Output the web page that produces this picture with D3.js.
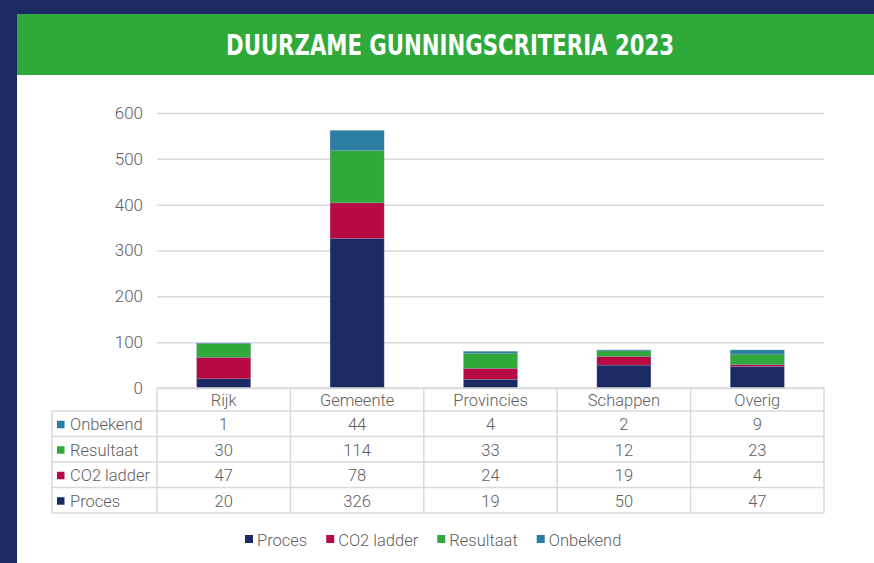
<!DOCTYPE html>
<meta charset="utf-8">
<script src="https://d3js.org/d3.v7.min.js"></script>
<style>
  body { margin: 0; background: #1b2a63; }
  text { font-family: Roboto, "Noto Sans", sans-serif; font-weight: 300; }
</style>
<div id="chart"></div>
<script>
// data
var categories = ["Rijk", "Gemeente", "Provincies", "Schappen", "Overig"];
var seriesNames = ["Proces", "CO2 ladder", "Resultaat", "Onbekend"];
var proces = [20, 326, 19, 50, 47];
var co2Ladder = [47, 78, 24, 19, 4];
var resultaat = [30, 114, 33, 12, 23];
var onbekend = [1, 44, 4, 2, 9];
var yTicks = [0, 100, 200, 300, 400, 500, 600];
var title = "DUURZAME GUNNINGSCRITERIA 2023";

var colors = ["#1b2a63", "#b80a42", "#30a93a", "#2b7ea1"];
var values = [proces, co2Ladder, resultaat, onbekend];

var W = 874, H = 563;
var grey = "#5e5e5e", lineGrey = "#d9d9d9";

var svg = d3.select("#chart").append("svg")
  .attr("width", W).attr("height", H);

// white panel + green header
svg.append("rect").attr("x", 17).attr("y", 14).attr("width", W - 17).attr("height", H - 14).attr("fill", "#fff");
svg.append("rect").attr("x", 17).attr("y", 14).attr("width", W - 17).attr("height", 61).attr("fill", "#2fa93a");
svg.append("text")
  .attr("x", 450).attr("y", 55)
  .attr("text-anchor", "middle")
  .attr("fill", "#fff")
  .style("font-family", "'Liberation Sans Narrow', 'DejaVu Sans Condensed', sans-serif")
  .style("font-weight", "bold")
  .style("font-size", "28px")
  .attr("textLength", 448).attr("lengthAdjust", "spacingAndGlyphs")
  .text(title);

// scales
var x = d3.scaleBand().domain(categories).range([157, 824]);
var y = d3.scaleLinear().domain([0, 600]).range([388, 113]);

// y axis with gridlines
var yAxis = svg.append("g")
  .attr("transform", "translate(157,0)")
  .call(d3.axisLeft(y).tickValues(yTicks).tickSize(-(824 - 157)).tickPadding(14));
yAxis.select(".domain").remove();
yAxis.selectAll("line").attr("stroke", lineGrey).attr("stroke-width", 1.5);
yAxis.selectAll("text").attr("fill", grey).style("font-size", "17px");

// stacked bars
var table = categories.map(function(c, i) {
  var row = {cat: c};
  seriesNames.forEach(function(s, j) { row[s] = values[j][i]; });
  return row;
});
var stacked = d3.stack().keys(seriesNames)(table);
var barW = x.bandwidth() * 0.405;

svg.append("g").selectAll("g")
  .data(stacked).join("g")
  .attr("fill", function(d, i) { return colors[i]; })
  .selectAll("rect")
  .data(function(d) { return d; }).join("rect")
  .attr("x", function(d) { return x(d.data.cat) + (x.bandwidth() - barW) / 2; })
  .attr("y", function(d) { return y(d[1]); })
  .attr("width", barW)
  .attr("height", function(d) { return y(d[0]) - y(d[1]); })
  .attr("stroke", "#8fa3c8").attr("stroke-width", 0.5).attr("stroke-opacity", 0.6);

// data table
var rowOrder = [3, 2, 1, 0]; // Onbekend, Resultaat, CO2 ladder, Proces
var rowY = d3.scaleBand().domain(rowOrder).range([411, 513]);
var tg = svg.append("g");
var lineAttrs = function(sel) { return sel.attr("stroke", lineGrey).attr("stroke-width", 1.5); };

// horizontal lines
lineAttrs(tg.append("line").attr("x1", 157).attr("x2", 824).attr("y1", 388).attr("y2", 388));
rowOrder.forEach(function(r) {
  lineAttrs(tg.append("line").attr("x1", 52).attr("x2", 824).attr("y1", rowY(r)).attr("y2", rowY(r)));
});
lineAttrs(tg.append("line").attr("x1", 52).attr("x2", 824).attr("y1", 513).attr("y2", 513));
// vertical lines
lineAttrs(tg.append("line").attr("x1", 52).attr("x2", 52).attr("y1", 411).attr("y2", 513));
categories.forEach(function(c) {
  lineAttrs(tg.append("line").attr("x1", x(c)).attr("x2", x(c)).attr("y1", 388).attr("y2", 513));
});
lineAttrs(tg.append("line").attr("x1", 824).attr("x2", 824).attr("y1", 388).attr("y2", 513));

// header labels
tg.selectAll("text.cat").data(categories).join("text")
  .attr("class", "cat")
  .attr("x", function(c) { return x(c) + x.bandwidth() / 2; })
  .attr("y", 405.5)
  .attr("text-anchor", "middle").attr("fill", grey).style("font-size", "16.5px")
  .text(function(c) { return c; });

// rows
rowOrder.forEach(function(r) {
  var cy = rowY(r) + rowY.bandwidth() / 2;
  tg.append("rect").attr("x", 57).attr("y", cy - 3).attr("width", 7.5).attr("height", 7.5).attr("fill", colors[r]);
  tg.append("text").attr("x", 70).attr("y", cy + 6.5)
    .attr("fill", grey).style("font-size", "16.5px").text(seriesNames[r]);
  tg.selectAll("text.v" + r).data(values[r]).join("text")
    .attr("class", "v" + r)
    .attr("x", function(v, i) { return x(categories[i]) + x.bandwidth() / 2; })
    .attr("y", cy + 6.5)
    .attr("text-anchor", "middle").attr("fill", grey).style("font-size", "16.5px")
    .text(function(v) { return v; });
});

// legend
var lg = svg.append("g");
var lx = 245;
seriesNames.forEach(function(s, i) {
  lg.append("rect").attr("x", lx).attr("y", 535).attr("width", 8).attr("height", 8).attr("fill", colors[i]);
  var t = lg.append("text").attr("x", lx + 12).attr("y", 545.5)
    .attr("fill", grey).style("font-size", "16.5px").text(s);
  lx += 12 + t.node().getComputedTextLength() + 19;
});
</script>
